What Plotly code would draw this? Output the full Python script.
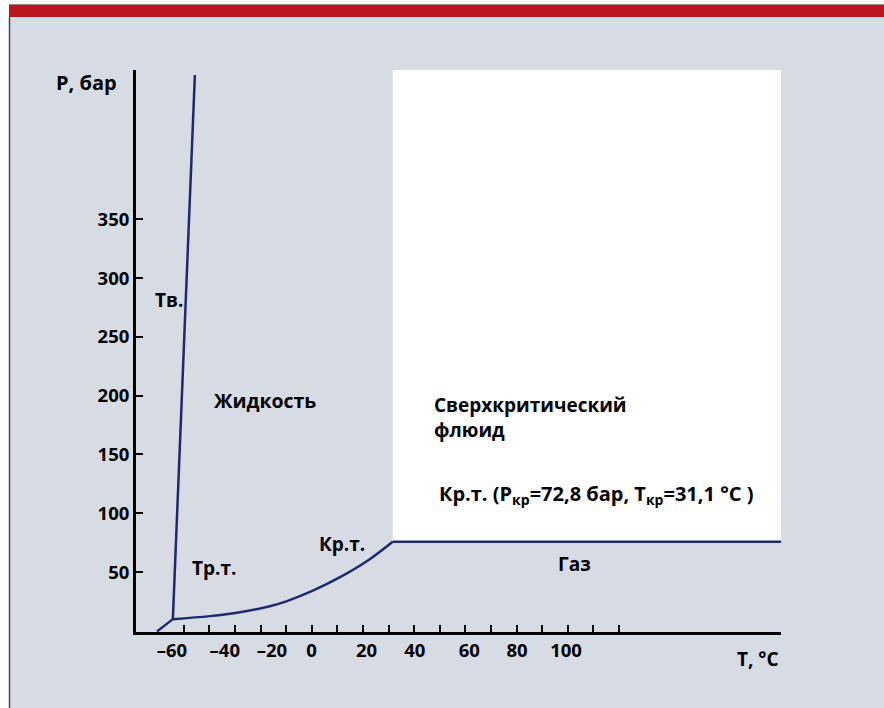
import plotly.graph_objects as go

# ---- data ----
sub_T = [-60.5, -54.3]          # sublimation segment
sub_P = [-0.5, 9.95]
melt_T = [-54.3, -45.7]         # melting line
melt_P = [9.95, 472.7]
vap_T = [-54.3, -39.8, -28.1, -16.4, -9.7, 0.4, 11.0, 21.6, 31.6]
vap_P = [9.95, 12.5, 15.8, 20.9, 25.3, 34.1, 45.6, 59.4, 75.8]
crit_T = 31.6
crit_P = 75.8
T_max = 183.3
P_max = 477.0
T_min = -68.7
P_min = -1.0

x_ticks = list(range(-50, 121, 10))
x_label_text = ["–60", "–40", "–20", "0", "20", "40", "60", "80", "100"]
x_label_pos = [-54.7, -34.0, -15.6, -0.1, 21.4, 40.2, 61.5, 80.2, 99.3]
y_ticks = [50, 100, 150, 200, 250, 300, 350]
y_tick_text = ["50", "100", "150", "200", "250", "300", "350"]

BG = "#d7dbe4"
LINE = "#1f2a6e"
FONT = "Open Sans"
FS = 19

fig = go.Figure()

# white supercritical region
fig.add_trace(go.Scatter(
    x=[crit_T, T_max, T_max, crit_T, crit_T],
    y=[crit_P, crit_P, P_max, P_max, crit_P],
    fill="toself", fillcolor="white", mode="none",
    hoverinfo="skip", showlegend=False))

for xs, ys, shp in [(sub_T, sub_P, "linear"), (melt_T, melt_P, "linear"),
                    (vap_T, vap_P, "spline"),
                    ([crit_T, T_max], [crit_P, crit_P], "linear")]:
    fig.add_trace(go.Scatter(x=xs, y=ys, mode="lines",
                             line=dict(color=LINE, width=2.5, shape=shp, smoothing=1.0),
                             hoverinfo="skip", showlegend=False, cliponaxis=False))

# dummy trace for label axis
fig.add_trace(go.Scatter(x=[T_min], y=[P_min], xaxis="x2", mode="markers",
                         marker=dict(opacity=0), hoverinfo="skip", showlegend=False))

W, H = 884, 708
L, R, T, B = 136, 884 - 781, 70, 708 - 632
pw, ph = W - L - R, H - T - B


def px(x):
    return (x - L) / pw


def py(y):
    return (H - B - y) / ph


shapes = [
    # white strip on the left
    dict(type="rect", xref="paper", yref="paper", x0=px(-5), x1=px(9), y0=py(H + 5), y1=py(-5),
         fillcolor="white", line=dict(width=0), layer="below"),
    # left border line
    dict(type="line", xref="paper", yref="paper", x0=px(9.5), x1=px(9.5), y0=py(H + 5), y1=py(17),
         line=dict(color="#4a4a4a", width=1.5)),
    # white top strip
    dict(type="rect", xref="paper", yref="paper", x0=px(-5), x1=px(W + 5), y0=py(5), y1=py(-5),
         fillcolor="white", line=dict(width=0)),
    # red bar
    dict(type="rect", xref="paper", yref="paper", x0=px(9), x1=px(W + 5), y0=py(17), y1=py(5),
         fillcolor="#bc161d", line=dict(width=0)),
    dict(type="line", xref="paper", yref="paper", x0=px(9), x1=px(W + 5), y0=py(4.8), y1=py(4.8),
         line=dict(color="#555555", width=1)),
]

tf = dict(family=FONT, size=FS, color="black", weight=700)
tickf = dict(family=FONT, size=18.5, color="black", weight=700)


def ann(text, x, y, xanchor="left", yanchor="middle", size=FS):
    f = dict(tf)
    f["size"] = size
    return dict(text=text, x=x, y=y, xref="paper", yref="paper", xanchor=xanchor,
                yanchor=yanchor, showarrow=False, font=f, align="left")


annotations = [
    ann("P, бар", px(54), py(83), size=20),
    ann("T, °C", px(781), py(659), xanchor="right"),
    ann("Тв.", px(153), py(300)),
    ann("Жидкость", px(212), py(400), size=19.5),
    ann("Тр.т.", px(190), py(568)),
    ann("Кр.т.", px(317), py(544)),
    ann("Газ", px(556), py(564)),
    ann("Сверхкритический<br>флюид", px(432), py(417)),
    ann("Кр.т. (P<sub>кр</sub>=72,8 бар, T<sub>кр</sub>=31,1 °C )", px(437), py(494), size=20),
]

fig.update_layout(
    width=W, height=H,
    margin=dict(l=L, r=R, t=T, b=B, pad=0),
    paper_bgcolor=BG, plot_bgcolor=BG,
    shapes=shapes, annotations=annotations,
    xaxis=dict(range=[T_min, T_max], showgrid=False, zeroline=False,
               showline=True, linecolor="black", linewidth=3,
               tickmode="array", tickvals=x_ticks, ticks="inside", ticklen=7,
               tickwidth=2, tickcolor="black", showticklabels=False, fixedrange=True),
    xaxis2=dict(range=[T_min, T_max], overlaying="x", side="bottom", anchor="y",
                showgrid=False, zeroline=False, showline=False,
                tickmode="array", tickvals=x_label_pos, ticktext=x_label_text,
                ticks="outside", ticklen=2, tickcolor="rgba(0,0,0,0)",
                tickfont=tickf, fixedrange=True),
    yaxis=dict(range=[P_min, P_max], showgrid=False, zeroline=False,
               showline=True, linecolor="black", linewidth=3,
               tickmode="array", tickvals=y_ticks, ticktext=y_tick_text,
               ticks="inside", ticklen=7, tickwidth=2, tickcolor="black",
               tickfont=tickf, fixedrange=True),
    showlegend=False,
)

fig.write_html("out.html", config={"displayModeBar": False},
               post_script="document.body.style.margin='0';document.body.style.overflow='hidden';")
